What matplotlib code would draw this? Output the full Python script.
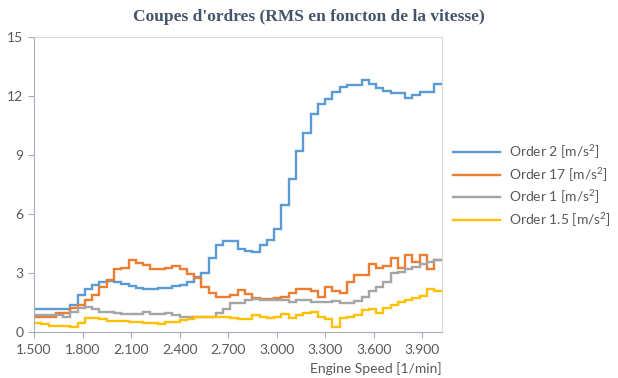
import numpy as np
import matplotlib
matplotlib.use('Agg')
import matplotlib.pyplot as plt

# rpm bin edges (45 rpm bins)
rpm_edges = [1500, 1545, 1590, 1635, 1680, 1725, 1770, 1815, 1860, 1905,
             1950, 1995, 2040, 2085, 2130, 2175, 2220, 2265, 2310, 2355,
             2400, 2445, 2490, 2535, 2580, 2625, 2670, 2715, 2760, 2805,
             2850, 2895, 2940, 2985, 3030, 3075, 3120, 3165, 3210, 3255,
             3300, 3345, 3390, 3435, 3480, 3525, 3570, 3615, 3660, 3705,
             3750, 3795, 3840, 3885, 3930, 3975, 4020]

order_2 = [1.17, 1.17, 1.17, 1.17, 1.17, 1.37, 1.88, 2.19, 2.39, 2.54,
           2.59, 2.56, 2.44, 2.34, 2.25, 2.19, 2.19, 2.25, 2.25, 2.34,
           2.40, 2.56, 2.78, 3.02, 3.75, 4.42, 4.64, 4.64, 4.25, 4.13,
           4.08, 4.42, 4.71, 5.27, 6.46, 7.81, 9.20, 10.15, 11.12, 11.63,
           11.88, 12.22, 12.47, 12.59, 12.59, 12.81, 12.64, 12.44, 12.30, 12.19,
           12.19, 11.91, 12.05, 12.22, 12.22, 12.61]

order_17 = [0.78, 0.78, 0.75, 0.95, 0.95, 1.24, 1.37, 1.63, 1.88, 2.30,
            2.64, 3.19, 3.24, 3.69, 3.49, 3.41, 3.20, 3.20, 3.27, 3.36,
            3.19, 2.93, 2.73, 2.30, 1.97, 1.76, 1.76, 1.88, 2.14, 1.92,
            1.75, 1.68, 1.68, 1.71, 1.80, 1.97, 2.17, 2.17, 2.10, 1.80,
            2.27, 2.10, 2.00, 2.56, 2.90, 2.90, 3.46, 3.27, 3.37, 3.75,
            3.24, 3.91, 3.57, 3.91, 3.19, 3.69]

order_1 = [0.86, 0.86, 0.86, 0.86, 0.75, 1.03, 1.20, 1.29, 1.15, 1.03,
           1.00, 0.95, 0.92, 0.92, 0.92, 1.03, 0.92, 0.92, 0.95, 0.86,
           0.78, 0.78, 0.78, 0.78, 0.78, 0.95, 1.15, 1.46, 1.46, 1.63,
           1.68, 1.63, 1.63, 1.63, 1.63, 1.54, 1.63, 1.63, 1.54, 1.51,
           1.55, 1.60, 1.49, 1.49, 1.58, 1.80, 2.08, 2.30, 2.56, 2.98,
           3.07, 3.19, 3.32, 3.46, 3.57, 3.69]

order_1_5 = [0.47, 0.39, 0.32, 0.32, 0.32, 0.27, 0.44, 0.70, 0.73, 0.66,
             0.58, 0.58, 0.58, 0.52, 0.49, 0.47, 0.47, 0.41, 0.49, 0.49,
             0.61, 0.68, 0.75, 0.78, 0.78, 0.78, 0.78, 0.70, 0.66, 0.64,
             0.86, 0.78, 0.73, 0.78, 0.90, 0.70, 0.86, 0.95, 1.03, 0.78,
             0.65, 0.27, 0.73, 0.78, 0.86, 1.12, 1.15, 0.98, 1.20, 1.37,
             1.54, 1.63, 1.71, 1.83, 2.19, 2.10]

series = [('Order 2 [m/s$^2$]', order_2, '#5B9BD5'),
          ('Order 17 [m/s$^2$]', order_17, '#ED7D31'),
          ('Order 1 [m/s$^2$]', order_1, '#A5A5A5'),
          ('Order 1.5 [m/s$^2$]', order_1_5, '#FFC000')]

x_ticks = [1500, 1800, 2100, 2400, 2700, 3000, 3300, 3600, 3900]
x_tick_labels = ['1.500', '1.800', '2.100', '2.400', '2.700', '3.000', '3.300', '3.600', '3.900']
y_ticks = [0, 3, 6, 9, 12, 15]

plt.rcParams['font.family'] = ['Lato', 'DejaVu Sans']
plt.rcParams['mathtext.fontset'] = 'custom'
plt.rcParams['mathtext.rm'] = 'Lato'
text_col = '#595959'
axis_col = '#A6AEBB'

fig = plt.figure(figsize=(6.18, 3.78), dpi=100)
ax = fig.add_axes([0.055, 0.1217, 0.6595, 0.7791])

for label, vals, col in series:
    ax.stairs(vals, rpm_edges, baseline=None, color=col, linewidth=1.7, label=label)

ax.set_xlim(1500, 4020)
ax.set_ylim(0, 15)
ax.set_xticks(x_ticks)
ax.set_xticklabels(x_tick_labels)
ax.set_yticks(y_ticks)

for s in ax.spines.values():
    s.set_color('#D9D9D9')
    s.set_linewidth(0.8)
ax.spines['left'].set_color(axis_col)
ax.spines['bottom'].set_color(axis_col)
ax.tick_params(axis='both', colors=axis_col, labelcolor=text_col, labelsize=10,
               length=4, width=0.8, direction='out')
ax.tick_params(axis='x', pad=5)

fig.text(0.5, 0.955, "Coupes d'ordres (RMS en foncton de la vitesse)",
         family='Liberation Serif', fontsize=12.5, fontweight='bold',
         color='#44546A', ha='center', va='center')

fig.text(0.7144, 0.008, 'Engine Speed [1/min]', ha='right', va='bottom',
         fontsize=10, color=text_col)

leg = fig.legend(loc='center left', bbox_to_anchor=(0.733, 0.509), frameon=False,
                 fontsize=10, handlelength=3.4, handletextpad=0.6,
                 labelspacing=0.3, borderpad=0, borderaxespad=0,
                 labelcolor=text_col)

fig.savefig('out.png', dpi=100)
